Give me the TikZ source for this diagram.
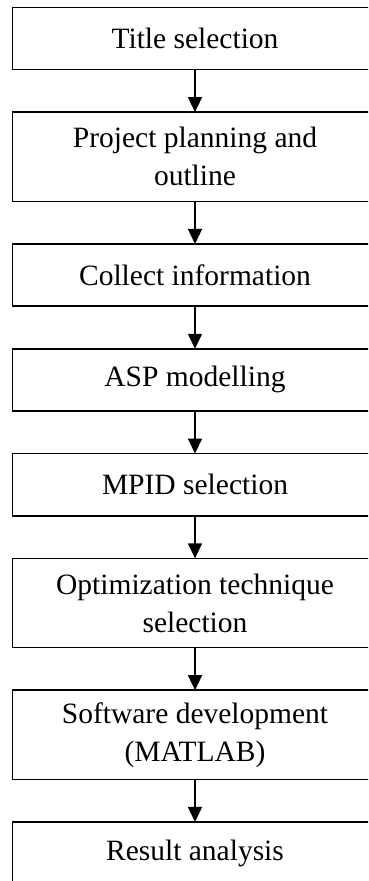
\documentclass[tikz,border=0pt]{standalone}
\usepackage{fontspec}
\setmainfont{Liberation Serif}
\usepackage{tikz}
\usetikzlibrary{positioning,arrows.meta}

\begin{document}
\begin{tikzpicture}[
  stepbox/.style={draw, line width=1.6pt, outer sep=0pt, inner sep=2pt,
    minimum width=365pt, minimum height=62.3pt, align=center,
    font=\fontsize{29.5}{38}\selectfont},
  tallbox/.style={stepbox, minimum height=89.3pt},
  flow/.style={-{Triangle[width=14pt,length=15pt]}, line width=1.6pt},
  node distance=42.5pt
  ]

  \useasboundingbox (0pt,0pt) rectangle (368pt,-881pt);
  \clip (0pt,0pt) rectangle (368pt,-881pt);

  \node[stepbox] (title) at (195pt,-38.5pt) {Title selection};
  \node[tallbox, below=of title] (plan) {Project planning and\\outline};
  \node[stepbox, below=of plan] (info) {Collect information};
  \node[stepbox, below=of info] (asp) {ASP modelling};
  \node[stepbox, below=of asp] (mpid) {MPID selection};
  \node[tallbox, below=of mpid] (optim) {Optimization technique\\selection};
  \node[tallbox, below=of optim] (soft) {Software development\\(MATLAB)};
  \node[stepbox, below=of soft] (result) {Result analysis};

  \draw[flow] (title) -- (plan);
  \draw[flow] (plan) -- (info);
  \draw[flow] (info) -- (asp);
  \draw[flow] (asp) -- (mpid);
  \draw[flow] (mpid) -- (optim);
  \draw[flow] (optim) -- (soft);
  \draw[flow] (soft) -- (result);

\end{tikzpicture}
\end{document}
